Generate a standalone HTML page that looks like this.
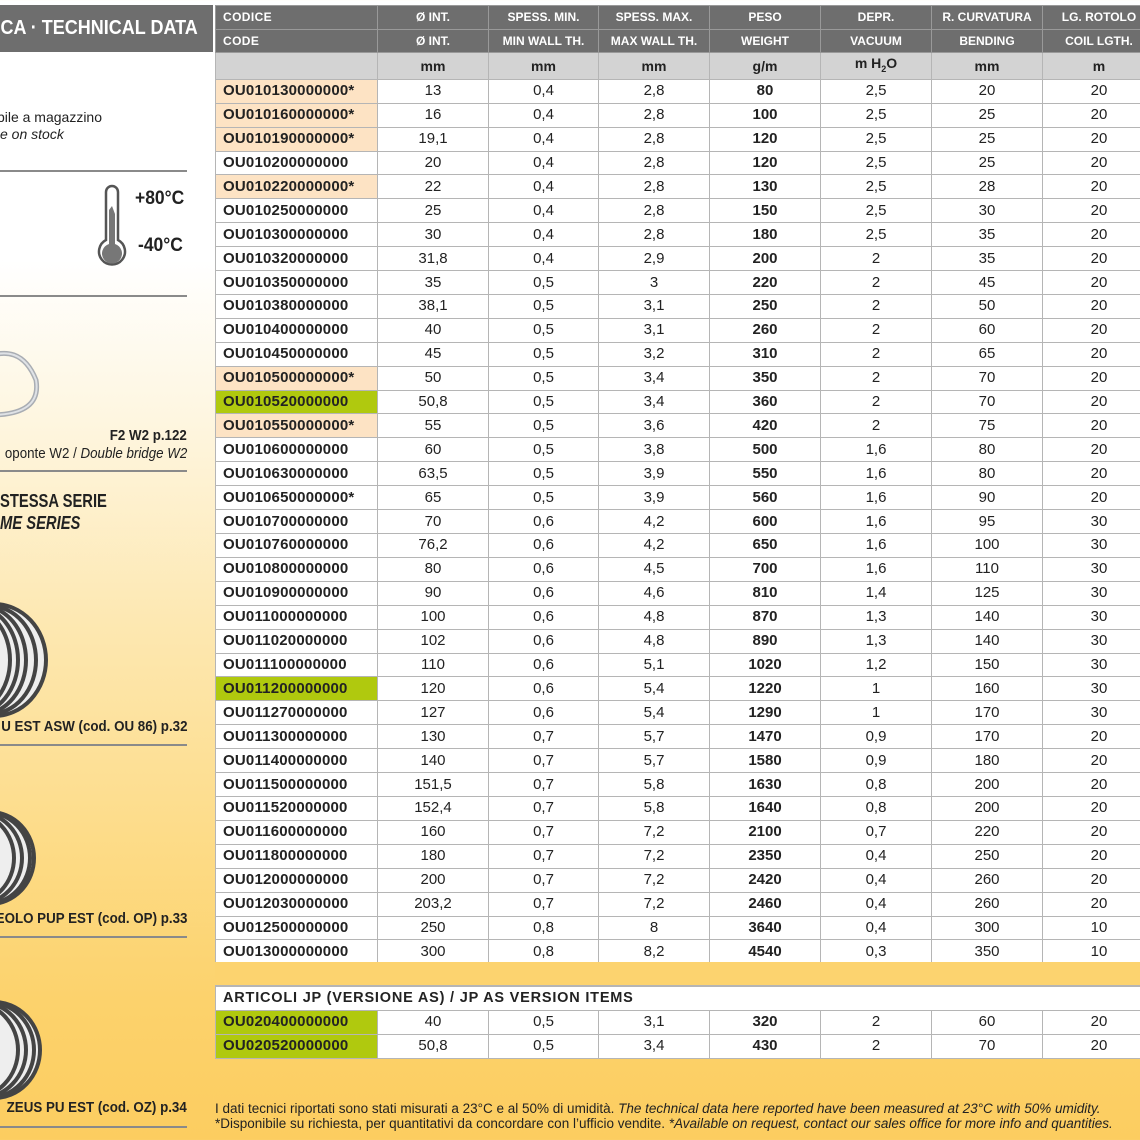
<!DOCTYPE html>
<html><head><meta charset="utf-8"><style>
*{margin:0;padding:0;box-sizing:border-box}
body{width:1140px;height:1140px;overflow:hidden;position:relative;font-family:"Liberation Sans Narrow","Liberation Sans",sans-serif;color:#222;
background:linear-gradient(180deg,#fff 0px,#fff 260px,#fef6e0 420px,#fde8b2 620px,#fddb86 850px,#fcd26c 1000px,#fccd60 1140px)}
.a{position:absolute;white-space:nowrap}
.title{left:0;top:5px;width:213px;height:47px;background:#6e6e6e;overflow:hidden}
.title span{position:absolute;right:15px;top:0;color:#fff;font-weight:bold;font-size:20px;line-height:47px;transform:scaleX(0.9);transform-origin:right center}
.hr{position:absolute;left:0;width:187px;height:2px;background:#8a8a8a}
.r{text-align:right;right:953px;transform:scaleX(0.92);transform-origin:right center}
.l{transform:scaleX(0.82);transform-origin:left center}
table{position:absolute;left:215px;border-collapse:collapse;table-layout:fixed;background:#fff}
td{border:1px solid #b5b5b5;text-align:center;font-size:15px;height:23.92px;padding:0;line-height:20px}
td:first-child{text-align:left;padding-left:7px;font-weight:bold;letter-spacing:0.2px}
td:nth-child(5){font-weight:bold}
.h td{background:#6e6e6e;color:#fff;font-weight:bold;font-size:12px;border-color:#999;height:23.5px;text-align:center;padding:0}
.h td:first-child{text-align:left;padding-left:7px;letter-spacing:0.4px}
.u td{background:#d3d3d3;font-weight:bold;font-size:14px}
.p td:first-child{background:#fde3c4}
.g td:first-child{background:#b0c90e}
</style></head><body>
<div class="a title"><span>ICA · TECHNICAL DATA</span></div>
<div class="a" style="right:1038px;top:109px;font-size:14px">bile a magazzino</div>
<div class="a" style="left:0;top:126px;font-size:14px;font-style:italic">e on stock</div>
<div class="hr" style="top:170px"></div>
<svg class="a" style="left:96px;top:184px" width="36" height="88"><path d="M10 8 a6 6 0 0 1 12 0 v48 a13 13 0 1 1 -12 0z" fill="#fff" stroke="#555" stroke-width="2.5"/><path d="M16 22 L19 30 V60 a10 10 0 1 1 -6 0 V26z" fill="#777"/></svg>
<div class="a" style="left:135px;top:188px;font-size:19px;font-weight:bold;transform:scaleX(0.92);transform-origin:left center">+80°C</div>
<div class="a" style="left:138px;top:235px;font-size:19px;font-weight:bold;transform:scaleX(0.92);transform-origin:left center">-40°C</div>
<div class="hr" style="top:295px"></div>
<svg class="a" style="left:0;top:320px" width="45" height="100"><path d="M-20 40 Q20 20 36 60 Q42 95 -10 95" fill="none" stroke="#a9adb3" stroke-width="5"/><path d="M-20 40 Q20 20 36 60 Q42 95 -10 95" fill="none" stroke="#dfe2e6" stroke-width="2"/></svg>
<div class="a r" style="top:428px;font-size:14.5px;font-weight:bold">F2 W2 p.122</div>
<div class="a r" style="top:446px;font-size:14.5px">oponte W2 / <i>Double bridge W2</i></div>
<div class="hr" style="top:470px"></div>
<div class="a l" style="left:0;top:491px;font-size:18px;font-weight:bold">STESSA SERIE</div>
<div class="a l" style="left:0;top:513px;font-size:18px;font-weight:bold;font-style:italic">ME SERIES</div>
<svg class="a" style="left:0;top:600px" width="52" height="120"><g fill="none" stroke="#444" stroke-width="4"><ellipse cx="-6" cy="60" rx="52" ry="56" fill="#eee"/><ellipse cx="-10" cy="60" rx="46" ry="54"/><ellipse cx="-18" cy="60" rx="44" ry="54"/><ellipse cx="-26" cy="60" rx="44" ry="54"/><ellipse cx="-34" cy="60" rx="44" ry="54"/></g></svg>
<div class="a r" style="top:719px;font-size:14.5px;font-weight:bold">U EST ASW (cod. OU 86) p.32</div>
<div class="hr" style="top:744px"></div>
<svg class="a" style="left:0;top:808px" width="38" height="100"><g fill="none" stroke="#444" stroke-width="4"><ellipse cx="-10" cy="50" rx="44" ry="46" fill="#eee"/><ellipse cx="-14" cy="50" rx="44" ry="46"/><ellipse cx="-22" cy="50" rx="44" ry="46"/><ellipse cx="-30" cy="50" rx="44" ry="46"/></g></svg>
<div class="a r" style="top:911px;font-size:14.5px;font-weight:bold">EOLO PUP EST (cod. OP) p.33</div>
<div class="hr" style="top:936px"></div>
<svg class="a" style="left:0;top:1000px" width="44" height="100"><g fill="none" stroke="#444" stroke-width="4"><ellipse cx="-6" cy="50" rx="46" ry="48" fill="#eee"/><ellipse cx="-12" cy="50" rx="46" ry="48"/><ellipse cx="-20" cy="50" rx="46" ry="48"/><ellipse cx="-28" cy="50" rx="46" ry="48"/></g></svg>
<div class="a r" style="top:1100px;font-size:14.5px;font-weight:bold">ZEUS PU EST (cod. OZ) p.34</div>
<div class="hr" style="top:1126px"></div>

<table style="top:5px;width:940px">
<colgroup><col style="width:162px"><col style="width:111px"><col style="width:110px"><col style="width:111px"><col style="width:111px"><col style="width:111px"><col style="width:111px"><col style="width:113px"></colgroup>
<tr class="h"><td>CODICE</td><td>Ø INT.</td><td>SPESS. MIN.</td><td>SPESS. MAX.</td><td>PESO</td><td>DEPR.</td><td>R. CURVATURA</td><td>LG. ROTOLO</td></tr>
<tr class="h"><td>CODE</td><td>Ø INT.</td><td>MIN WALL TH.</td><td>MAX WALL TH.</td><td>WEIGHT</td><td>VACUUM</td><td>BENDING</td><td>COIL LGTH.</td></tr>
<tr class="u"><td></td><td>mm</td><td>mm</td><td>mm</td><td>g/m</td><td>m H<sub style="font-size:9px">2</sub>O</td><td>mm</td><td>m</td></tr>
<tr class="p"><td>OU010130000000*</td><td>13</td><td>0,4</td><td>2,8</td><td>80</td><td>2,5</td><td>20</td><td>20</td></tr>
<tr class="p"><td>OU010160000000*</td><td>16</td><td>0,4</td><td>2,8</td><td>100</td><td>2,5</td><td>25</td><td>20</td></tr>
<tr class="p"><td>OU010190000000*</td><td>19,1</td><td>0,4</td><td>2,8</td><td>120</td><td>2,5</td><td>25</td><td>20</td></tr>
<tr><td>OU010200000000</td><td>20</td><td>0,4</td><td>2,8</td><td>120</td><td>2,5</td><td>25</td><td>20</td></tr>
<tr class="p"><td>OU010220000000*</td><td>22</td><td>0,4</td><td>2,8</td><td>130</td><td>2,5</td><td>28</td><td>20</td></tr>
<tr><td>OU010250000000</td><td>25</td><td>0,4</td><td>2,8</td><td>150</td><td>2,5</td><td>30</td><td>20</td></tr>
<tr><td>OU010300000000</td><td>30</td><td>0,4</td><td>2,8</td><td>180</td><td>2,5</td><td>35</td><td>20</td></tr>
<tr><td>OU010320000000</td><td>31,8</td><td>0,4</td><td>2,9</td><td>200</td><td>2</td><td>35</td><td>20</td></tr>
<tr><td>OU010350000000</td><td>35</td><td>0,5</td><td>3</td><td>220</td><td>2</td><td>45</td><td>20</td></tr>
<tr><td>OU010380000000</td><td>38,1</td><td>0,5</td><td>3,1</td><td>250</td><td>2</td><td>50</td><td>20</td></tr>
<tr><td>OU010400000000</td><td>40</td><td>0,5</td><td>3,1</td><td>260</td><td>2</td><td>60</td><td>20</td></tr>
<tr><td>OU010450000000</td><td>45</td><td>0,5</td><td>3,2</td><td>310</td><td>2</td><td>65</td><td>20</td></tr>
<tr class="p"><td>OU010500000000*</td><td>50</td><td>0,5</td><td>3,4</td><td>350</td><td>2</td><td>70</td><td>20</td></tr>
<tr class="g"><td>OU010520000000</td><td>50,8</td><td>0,5</td><td>3,4</td><td>360</td><td>2</td><td>70</td><td>20</td></tr>
<tr class="p"><td>OU010550000000*</td><td>55</td><td>0,5</td><td>3,6</td><td>420</td><td>2</td><td>75</td><td>20</td></tr>
<tr><td>OU010600000000</td><td>60</td><td>0,5</td><td>3,8</td><td>500</td><td>1,6</td><td>80</td><td>20</td></tr>
<tr><td>OU010630000000</td><td>63,5</td><td>0,5</td><td>3,9</td><td>550</td><td>1,6</td><td>80</td><td>20</td></tr>
<tr><td>OU010650000000*</td><td>65</td><td>0,5</td><td>3,9</td><td>560</td><td>1,6</td><td>90</td><td>20</td></tr>
<tr><td>OU010700000000</td><td>70</td><td>0,6</td><td>4,2</td><td>600</td><td>1,6</td><td>95</td><td>30</td></tr>
<tr><td>OU010760000000</td><td>76,2</td><td>0,6</td><td>4,2</td><td>650</td><td>1,6</td><td>100</td><td>30</td></tr>
<tr><td>OU010800000000</td><td>80</td><td>0,6</td><td>4,5</td><td>700</td><td>1,6</td><td>110</td><td>30</td></tr>
<tr><td>OU010900000000</td><td>90</td><td>0,6</td><td>4,6</td><td>810</td><td>1,4</td><td>125</td><td>30</td></tr>
<tr><td>OU011000000000</td><td>100</td><td>0,6</td><td>4,8</td><td>870</td><td>1,3</td><td>140</td><td>30</td></tr>
<tr><td>OU011020000000</td><td>102</td><td>0,6</td><td>4,8</td><td>890</td><td>1,3</td><td>140</td><td>30</td></tr>
<tr><td>OU011100000000</td><td>110</td><td>0,6</td><td>5,1</td><td>1020</td><td>1,2</td><td>150</td><td>30</td></tr>
<tr class="g"><td>OU011200000000</td><td>120</td><td>0,6</td><td>5,4</td><td>1220</td><td>1</td><td>160</td><td>30</td></tr>
<tr><td>OU011270000000</td><td>127</td><td>0,6</td><td>5,4</td><td>1290</td><td>1</td><td>170</td><td>30</td></tr>
<tr><td>OU011300000000</td><td>130</td><td>0,7</td><td>5,7</td><td>1470</td><td>0,9</td><td>170</td><td>20</td></tr>
<tr><td>OU011400000000</td><td>140</td><td>0,7</td><td>5,7</td><td>1580</td><td>0,9</td><td>180</td><td>20</td></tr>
<tr><td>OU011500000000</td><td>151,5</td><td>0,7</td><td>5,8</td><td>1630</td><td>0,8</td><td>200</td><td>20</td></tr>
<tr><td>OU011520000000</td><td>152,4</td><td>0,7</td><td>5,8</td><td>1640</td><td>0,8</td><td>200</td><td>20</td></tr>
<tr><td>OU011600000000</td><td>160</td><td>0,7</td><td>7,2</td><td>2100</td><td>0,7</td><td>220</td><td>20</td></tr>
<tr><td>OU011800000000</td><td>180</td><td>0,7</td><td>7,2</td><td>2350</td><td>0,4</td><td>250</td><td>20</td></tr>
<tr><td>OU012000000000</td><td>200</td><td>0,7</td><td>7,2</td><td>2420</td><td>0,4</td><td>260</td><td>20</td></tr>
<tr><td>OU012030000000</td><td>203,2</td><td>0,7</td><td>7,2</td><td>2460</td><td>0,4</td><td>260</td><td>20</td></tr>
<tr><td>OU012500000000</td><td>250</td><td>0,8</td><td>8</td><td>3640</td><td>0,4</td><td>300</td><td>10</td></tr>
<tr><td>OU013000000000</td><td>300</td><td>0,8</td><td>8,2</td><td>4540</td><td>0,3</td><td>350</td><td>10</td></tr>
</table>
<div class="a" style="left:215px;top:962px;width:925px;height:24px;background:#fcd36f;border-bottom:1px solid #b5b5b5"></div>

<table style="top:986px;width:940px">
<colgroup><col style="width:162px"><col style="width:111px"><col style="width:110px"><col style="width:111px"><col style="width:111px"><col style="width:111px"><col style="width:111px"><col style="width:113px"></colgroup>
<tr><td colspan="8" style="font-size:14.5px;letter-spacing:0.8px;border-bottom:none">ARTICOLI JP (VERSIONE AS) / JP AS VERSION ITEMS</td></tr>
<tr class="g"><td>OU020400000000</td><td>40</td><td>0,5</td><td>3,1</td><td>320</td><td>2</td><td>60</td><td>20</td></tr>
<tr class="g"><td>OU020520000000</td><td>50,8</td><td>0,5</td><td>3,4</td><td>430</td><td>2</td><td>70</td><td>20</td></tr>
</table>

<div class="a" style="left:215px;top:1101px;font-size:13.5px;line-height:15px">I dati tecnici riportati sono stati misurati a 23°C e al 50% di umidità. <i>The technical data here reported have been measured at 23°C with 50% umidity.</i><br>*Disponibile su richiesta, per quantitativi da concordare con l’ufficio vendite. <i>*Available on request, contact our sales office for more info and quantities.</i></div>
</body></html>
